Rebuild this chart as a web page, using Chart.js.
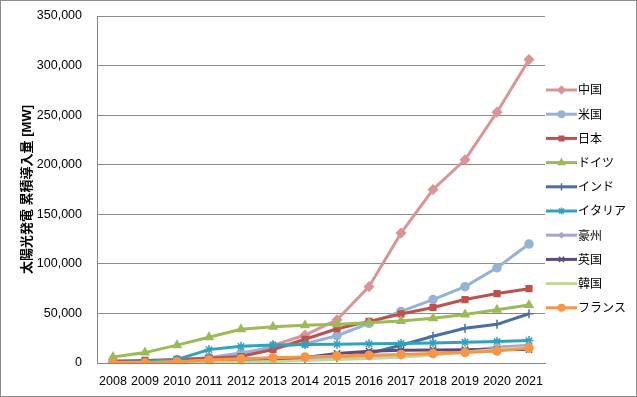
<!DOCTYPE html>
<html>
<head>
<meta charset="utf-8">
<script src="https://cdn.jsdelivr.net/npm/chart.js@4/dist/chart.umd.min.js"></script>
<style>
  html, body { margin: 0; padding: 0; background: #fff; }
  #wrap { width: 637px; height: 397px; }
</style>
</head>
<body>
<div id="wrap"><canvas id="solarChart" width="637" height="397"></canvas></div>
<script>
// years on the x axis
const years = ['2008','2009','2010','2011','2012','2013','2014','2015','2016','2017','2018','2019','2020','2021'];

// cumulative installed PV capacity [MW]
const china     = [140, 300, 800, 3300, 6700, 17700, 28200, 43500, 77000, 131000, 175000, 205000, 253000, 306000];
const usa       = [1200, 1600, 2900, 5600, 10000, 16000, 19500, 27500, 40000, 52000, 64000, 77000, 96000, 120000];
const japan     = [2100, 2600, 3600, 4900, 6600, 13600, 24000, 34500, 42000, 49500, 56000, 64000, 70000, 75000];
const germany   = [6000, 10500, 18000, 26000, 34000, 36500, 38000, 39200, 40700, 42300, 45200, 49000, 53700, 58500];
const india     = [30, 60, 100, 600, 1200, 2300, 3400, 5400, 9600, 17900, 27000, 35000, 39000, 49700];
const italy     = [500, 1200, 3600, 13500, 16800, 18200, 18600, 18900, 19300, 19700, 20100, 20900, 21600, 22600];
const australia = [100, 200, 1100, 2400, 3800, 4600, 5000, 5900, 6700, 7400, 8600, 12000, 16000, 18000];
const uk        = [20, 30, 100, 1000, 1800, 2900, 5500, 9600, 11900, 12800, 13100, 13300, 13500, 13700];
const korea     = [360, 520, 650, 730, 1000, 1500, 2500, 3600, 4500, 5800, 8100, 11000, 13500, 16000];
const france    = [100, 300, 1200, 3000, 4400, 5300, 6000, 7100, 7700, 8600, 9500, 10600, 12000, 15000];

const names  = ['中国', '米国', '日本', 'ドイツ', 'インド', 'イタリア', '豪州', '英国', '韓国', 'フランス'];
const series = [china, usa, japan, germany, india, italy, australia, uk, korea, france];
const colors = ['#D99694', '#95B3D7', '#C0504D', '#9BBB59', '#4A6FA5', '#31A2BE', '#A9A4CC', '#604A7B', '#C3D69B', '#F79646'];
const marks  = ['rectRot', 'circle', 'rect', 'triangle', 'cross', 'star', 'rectRot', 'crossRot', false, 'circle'];
const sizes  = [4.5, 4, 4, 4.5, 4.5, 4.5, 3, 4.5, 0, 4];

const FONT = 'Liberation Sans, "Noto Sans CJK JP", sans-serif';

const datasets = series.map((d, i) => ({
  label: names[i],
  data: d,
  borderColor: colors[i],
  backgroundColor: colors[i],
  pointBorderColor: colors[i],
  pointBackgroundColor: colors[i],
  pointStyle: marks[i],
  pointRadius: sizes[i],
  pointBorderWidth: 1.5,
  borderWidth: 3,
  tension: 0,
  order: series.length - i
}));

// Excel-style legend: short line with the marker in the middle
const sideLegend = {
  id: 'sideLegend',
  afterDraw(chart) {
    const ctx = chart.ctx;
    ctx.save();
    names.forEach((n, i) => {
      const y = 90 + i * 24.2;
      ctx.strokeStyle = colors[i];
      ctx.lineWidth = 3;
      ctx.beginPath();
      ctx.moveTo(546, y);
      ctx.lineTo(577, y);
      ctx.stroke();
      if (marks[i]) {
        ctx.fillStyle = colors[i];
        ctx.lineWidth = 1.5;
        Chart.helpers.drawPoint(ctx, { pointStyle: marks[i], radius: sizes[i] * 0.8, borderWidth: 1.5 }, 561.5, y);
      }
      ctx.fillStyle = '#000';
      ctx.font = '12px ' + FONT;
      ctx.textBaseline = 'middle';
      ctx.fillText(n, 578, y + 1);
    });
    // outer frame
    ctx.strokeStyle = '#8c8c8c';
    ctx.lineWidth = 1;
    ctx.strokeRect(0.5, 0.5, chart.width - 1, chart.height - 1);
    ctx.restore();
  }
};

new Chart(document.getElementById('solarChart'), {
  type: 'line',
  data: { labels: years, datasets: datasets },
  options: {
    responsive: false,
    animation: false,
    layout: { padding: { top: 16, right: 92, bottom: 0, left: 0 } },
    plugins: {
      legend: { display: false },
      tooltip: { enabled: false }
    },
    scales: {
      x: {
        offset: true,
        grid: { display: false, drawTicks: false },
        border: { color: '#868686', width: 1 },
        ticks: { color: '#000', font: { family: FONT, size: 12.5 }, padding: 11, maxRotation: 0, autoSkip: false },
        afterFit(s) { s.height = 34; s.paddingLeft = 0; s.paddingRight = 0; }
      },
      y: {
        min: 0,
        max: 350000,
        grid: { color: '#8c8c8c', drawTicks: false },
        border: { color: '#868686', width: 1 },
        ticks: {
          stepSize: 50000,
          color: '#000',
          padding: 15,
          font: { family: FONT, size: 12.5 },
          callback: v => v.toLocaleString('en-US')
        },
        title: {
          display: true,
          text: '太陽光発電 累積導入量 [MW]',
          color: '#000',
          font: { family: FONT, size: 13, weight: 'bold' },
          padding: { top: 20, bottom: 0 }
        },
        afterFit(s) { s.width = 97; s.paddingTop = 0; s.paddingBottom = 0; }
      }
    }
  },
  plugins: [sideLegend]
});
</script>
</body>
</html>
